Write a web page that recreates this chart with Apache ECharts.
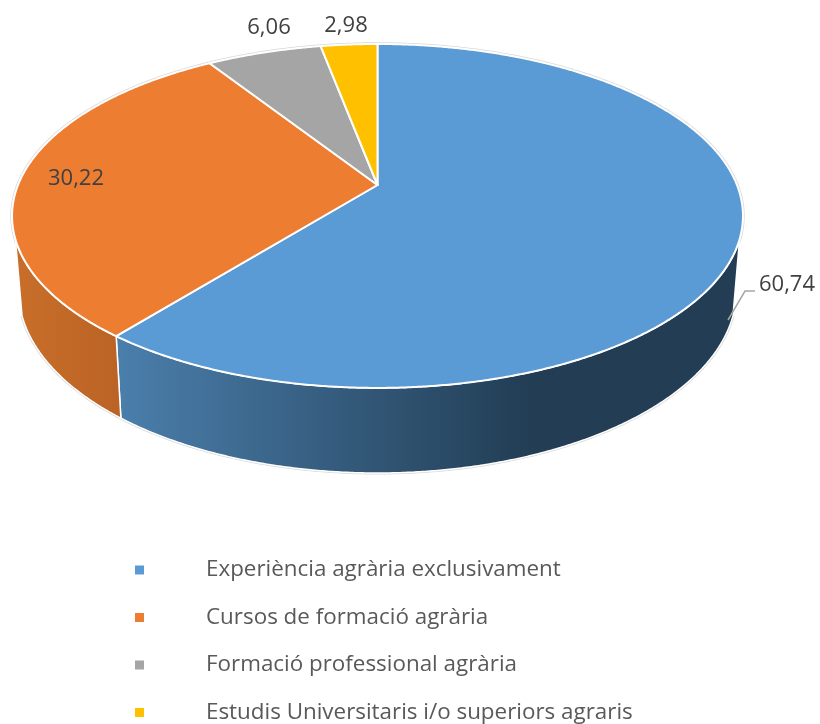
<!DOCTYPE html>
<html>
<head>
<meta charset="utf-8">
<style>html,body{margin:0;padding:0;background:#fff}#chart{width:820px;height:724px}</style>
<script src="https://cdn.jsdelivr.net/npm/echarts@6/dist/echarts.min.js"></script>
</head>
<body>
<div id="chart"></div>
<script>
var categories = ['Experiència agrària exclusivament', 'Cursos de formació agrària', 'Formació professional agrària', 'Estudis Universitaris i/o superiors agraris'];
var values = [60.74, 30.22, 6.06, 2.98];
var colors = ['#5b9bd5', '#ed7d31', '#a5a5a5', '#ffc000'];

// perspective of the disc: top face and bottom face
var topFace = {cx: 377.5, cy: 185, r: 359.5, k: 166.4};
var botFace = {cx: 377.5, cy: 258, r: 353, k: 176.3};
var persp = 0.18;
// part of the rim that faces the viewer, degrees clockwise from 12 o'clock
var rimFrom = 108, rimTo = 252;
var labelPos = [[787, 285], [76, 179], [269, 28], [346, 26]];

var total = values.reduce(function (a, b) { return a + b; }, 0);

function project(face, deg) {
    var t = deg * Math.PI / 180;
    var u = Math.sin(t), v = -Math.cos(t);
    var s = 1 / (1 - persp * v);
    return [face.cx + face.r * u * s, face.cy + face.k * v * s];
}
function arc(face, from, to) {
    var pts = [], n = Math.max(2, Math.ceil(Math.abs(to - from) * 3));
    for (var i = 0; i <= n; i++) pts.push(project(face, from + (to - from) * i / n));
    return pts;
}
function startAngle(idx) {
    var sum = 0;
    for (var i = 0; i < idx; i++) sum += values[i];
    return sum / total * 360;
}

var sideFill = [
    {type: 'linear', x: 120, y: 0, x2: 530, y2: 0, global: true, colorStops: [{offset: 0, color: '#4a7eab'}, {offset: 1, color: '#223d54'}]},
    {type: 'linear', x: 20, y: 0, x2: 120, y2: 0, global: true, colorStops: [{offset: 0, color: '#c86e2a'}, {offset: 1, color: '#bb6325'}]}
];

function renderSlice(idx) {
    return function (params, api) {
        var a0 = startAngle(idx);
        var a1 = a0 + api.value(0) / total * 360;
        var children = [];
        var from = Math.max(a0, rimFrom), to = Math.min(a1, rimTo);
        if (to > from) {
            children.push({
                type: 'polygon',
                shape: {points: arc(topFace, from, to).concat(arc(botFace, to, from))},
                style: {fill: sideFill[idx], stroke: '#fff', lineWidth: 1.5, lineJoin: 'round'}
            });
        }
        children.push({
            type: 'polygon',
            shape: {points: [[topFace.cx, topFace.cy]].concat(arc(topFace, a0, a1))},
            style: {fill: colors[idx], stroke: '#fff', lineWidth: 2, lineJoin: 'round'}
        });
        if (idx === 0) {
            children.push({
                type: 'polyline',
                shape: {points: [[728, 320], [745, 291], [755, 291]]},
                style: {fill: 'none', stroke: '#a6a6a6', lineWidth: 1.5}
            });
        }
        children.push({
            type: 'text',
            style: {
                x: labelPos[idx][0], y: labelPos[idx][1],
                text: api.value(0).toFixed(2).replace('.', ','),
                fill: '#404040', fontSize: 22, fontFamily: 'Open Sans',
                align: 'center', verticalAlign: 'middle'
            }
        });
        return {type: 'group', children: children};
    };
}

var chart = echarts.init(document.getElementById('chart'), null, {renderer: 'canvas'});

var series = [{
    // thin grey hairline round the whole disc
    type: 'custom', name: 'rim', coordinateSystem: 'none', silent: true, data: [[1]],
    renderItem: function () {
        return {type: 'group', children: [
            {type: 'polygon', shape: {points: arc(topFace, 0, 360)}, style: {fill: 'none', stroke: '#d9d9d9', lineWidth: 3.5}},
            {type: 'polyline', shape: {points: arc(botFace, rimFrom, rimTo)}, style: {fill: 'none', stroke: '#d9d9d9', lineWidth: 3}}
        ]};
    }
}];
categories.forEach(function (name, i) {
    series.push({
        type: 'custom',
        name: name,
        coordinateSystem: 'none',
        silent: true,
        itemStyle: {color: colors[i]},
        data: [[values[i]]],
        renderItem: renderSlice(i)
    });
});

chart.setOption({
    animation: false,
    backgroundColor: '#fff',
    legend: {
        data: categories,
        orient: 'vertical',
        left: 130,
        top: 550,
        height: 174,
        icon: 'rect',
        itemWidth: 9,
        itemHeight: 9,
        itemGap: 17.5,
        selectedMode: false,
        textStyle: {color: '#595959', fontSize: 22.4, fontFamily: 'Open Sans', lineHeight: 30, padding: [0, 0, 0, 57]}
    },
    series: series
});
</script>
</body>
</html>
